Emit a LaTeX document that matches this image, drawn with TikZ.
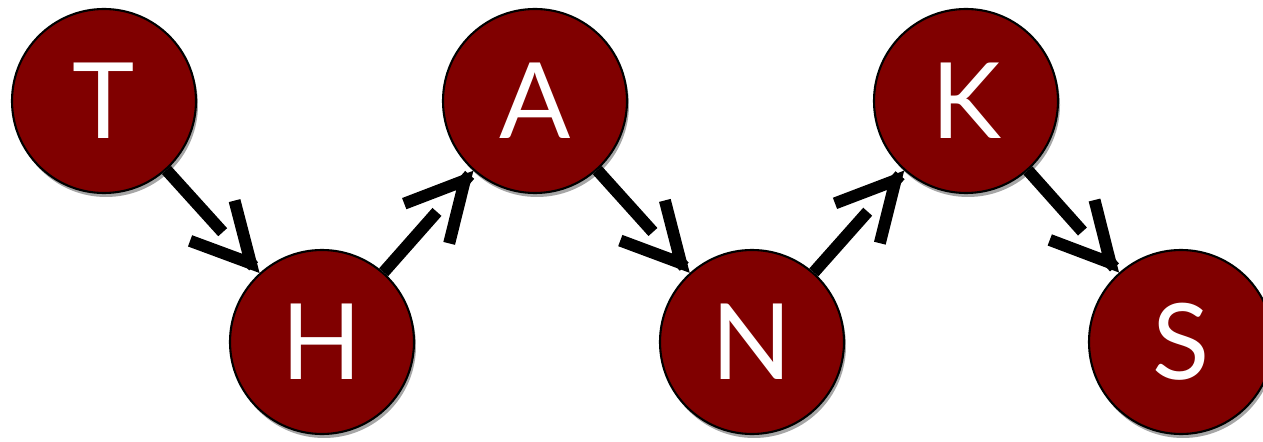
\documentclass[tikz,border=0pt]{standalone}
\usepackage{fontspec}
\setmainfont{Lato}
\usetikzlibrary{arrows.meta, shadows}
\definecolor{THmaroon}{HTML}{800000}
\tikzset{
  letter/.style={
    circle, draw=black, line width=1.2pt, fill=THmaroon, text=white,
    minimum size=3.68cm, inner sep=0pt, font=\fontsize{60}{60}\selectfont,
    drop shadow={shadow xshift=0.04cm, shadow yshift=-0.08cm,
      fill=black!35, opacity=1}},
  % shaft stops short, open head drawn by the postaction
  hop/.style={line width=0.24cm, draw=black, shorten >=1.1cm,
    postaction={draw, shorten >=0pt, shorten <=2.6cm,
      -{Straight Barb[sharp, length=1.15cm, width=1.2cm]}}},
}
\begin{document}
\begin{tikzpicture}
  \useasboundingbox (0,0) rectangle (25.26,-8.84);
  %% top row and bottom row, alternating
  \node[letter] (t) at (2.08,-2.02)  {T};
  \node[letter] (h) at (6.44,-6.84)  {H};
  \node[letter] (a) at (10.70,-2.02) {A};
  \node[letter] (n) at (15.04,-6.84) {N};
  \node[letter] (k) at (19.32,-2.02) {K};
  \node[letter] (s) at (23.62,-6.84) {S};
  %% Arrows
  \draw[hop] (t) -- (h); \draw[hop] (h) -- (a);
  \draw[hop] (a) -- (n); \draw[hop] (n) -- (k);
  \draw[hop] (k) -- (s);
\end{tikzpicture}
\end{document}
